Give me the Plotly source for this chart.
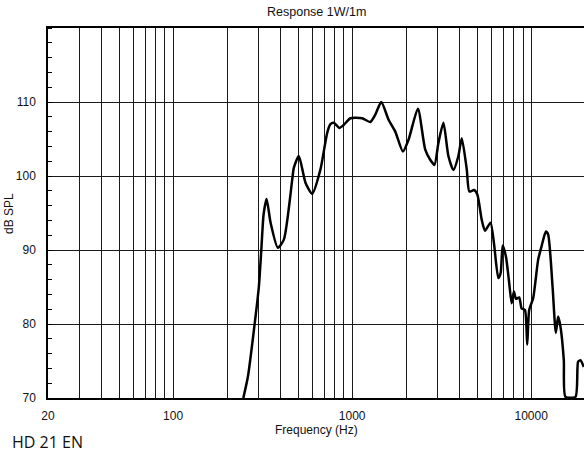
import plotly.graph_objects as go
import math

# Frequency response (Hz, dB SPL)
freq_hz = [246.7, 261.7, 282.7, 301.4, 310.8, 320.1, 332.7, 350.2, 384.6, 415.3,
           462.6, 472.1, 503.5, 548.6, 597.9, 665.2, 724.8, 756.1, 788.8, 848.4,
           896.5, 977.3, 1135.6, 1263, 1347, 1454, 1597, 1741, 1921, 2065,
           2329, 2557, 2728, 2882, 3034, 3234, 3448, 3678, 3920, 4096,
           4366, 4514, 4795, 5003, 5292, 5523, 5925, 6197, 6550, 6754,
           6930, 7229, 7541, 7778, 8010, 8218, 8574, 8843, 9225, 9500,
           9747, 10259, 10940, 11427, 12077, 12437, 13159, 13729, 14140, 14583,
           15213, 15548, 17679, 18275, 18849, 19667]
spl_db = [70.0, 72.9, 79.2, 85.1, 90.0, 94.8, 96.9, 93.7, 90.3, 91.4,
          99.5, 101.1, 102.7, 99.1, 97.6, 100.9, 105.8, 107.0, 107.2, 106.5,
          106.9, 107.8, 107.8, 107.3, 108.3, 110.0, 107.6, 106.0, 103.3, 104.9,
          109.1, 103.6, 102.2, 101.5, 104.5, 107.2, 102.7, 100.8, 102.7, 105.1,
          100.9, 97.9, 98.1, 97.5, 94.1, 92.6, 93.7, 90.9, 86.2, 86.9,
          90.6, 89.1, 85.5, 82.8, 84.4, 83.4, 83.6, 82.1, 81.9, 77.2,
          81.9, 83.5, 88.7, 90.5, 92.5, 92.1, 85.1, 78.8, 81.0, 79.6,
          75.1, 70.15, 70.15, 74.9, 75.1, 74.2]

x_tick_vals = [20, 100, 1000, 10000]
x_tick_text = ["20", "100", "1000", "10000"]
x_grid_vals = [20, 30, 40, 50, 60, 70, 80, 90,
               200, 300, 400, 500, 600, 700, 800, 900,
               2000, 3000, 4000, 5000, 6000, 7000, 8000, 9000, 20000]
y_tick_vals = [70, 80, 90, 100, 110]

title_text = "Response 1W/1m"
x_title = "Frequency (Hz)"
y_title = "dB SPL"
footer = "HD 21 EN"

fig = go.Figure()
fig.add_trace(go.Scatter(
    x=freq_hz, y=spl_db, mode="lines",
    line=dict(color="black", width=2.5, shape="spline", smoothing=0.6),
    showlegend=False, hoverinfo="skip"))

grid_col = "#1a1a1a"
font_main = "Liberation Sans, Arial, sans-serif"

fig.update_layout(
    width=584, height=457,
    margin=dict(l=48, r=0, t=28, b=59),
    paper_bgcolor="white", plot_bgcolor="white",
    font=dict(family=font_main, size=12, color="#111"),
    xaxis=dict(
        type="log", range=[math.log10(20), 4.295],
        tickvals=x_tick_vals, ticktext=x_tick_text,
        showgrid=True, gridcolor=grid_col, gridwidth=1,
        ticks="", ticklabelstandoff=6,
        showline=True, linecolor="black", linewidth=1.5, mirror=True,
        minor=dict(tickvals=x_grid_vals, showgrid=True, gridcolor=grid_col,
                   gridwidth=1, ticks=""),
        zeroline=False, fixedrange=True,
        tickfont=dict(size=12, family=font_main, color="#111"),
    ),
    yaxis=dict(
        range=[70, 120],
        tickvals=y_tick_vals,
        showgrid=True, gridcolor=grid_col, gridwidth=1,
        ticks="", ticklabelstandoff=8,
        showline=True, linecolor="black", linewidth=1.5,
        minor=dict(dtick=2, ticks="inside", ticklen=4, tickcolor="black",
                   tickwidth=1, showgrid=False),
        zeroline=False, fixedrange=True,
        tickfont=dict(size=12, family=font_main, color="#111"),
    ),
    annotations=[
        dict(text=title_text, xref="paper", yref="paper", x=0.5, y=1.043,
             xanchor="center", yanchor="middle", showarrow=False,
             font=dict(size=12.5, family=font_main, color="#111")),
        dict(text=x_title, xref="paper", yref="paper", x=0.5, y=-0.0865,
             xanchor="center", yanchor="middle", showarrow=False,
             font=dict(size=12, family=font_main, color="#111")),
        dict(text=y_title, xref="paper", yref="paper", x=-0.0728, y=0.5,
             xanchor="center", yanchor="middle", showarrow=False, textangle=-90,
             font=dict(size=12, family=font_main, color="#111")),
        dict(text=footer, xref="paper", yref="paper", x=-0.0709, y=-0.119,
             xanchor="left", yanchor="middle", showarrow=False,
             font=dict(size=16, family="Open Sans, Noto Sans, sans-serif", color="#111")),
    ],
)

fig.write_html("out.html",
               config={"displayModeBar": False},
               post_script="document.body.style.margin='0';document.body.style.padding='0';")
